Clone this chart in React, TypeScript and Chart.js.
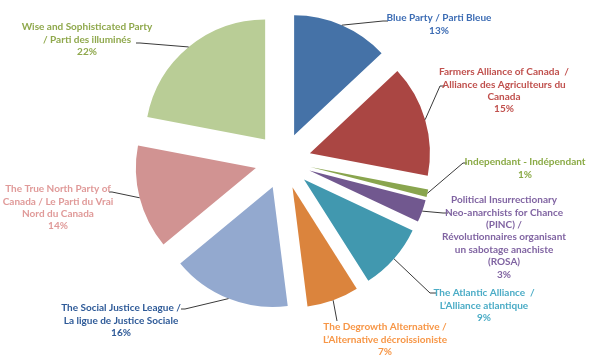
import React, { useEffect, useRef } from "react";
import { Chart, registerables } from "chart.js";

Chart.register(...registerables);

const categories: string[][] = [
  ["Blue Party / Parti Bleue"],
  ["Farmers Alliance of Canada  /", "Alliance des Agriculteurs du", "Canada"],
  ["Independant - Indépendant"],
  ["Political Insurrectionary", "Neo-anarchists for Chance", "(PINC) /", "Révolutionnaires organisant", "un sabotage anachiste", "(ROSA)"],
  ["The Atlantic Alliance  /", "L’Alliance atlantique"],
  ["The Degrowth Alternative /", "L’Alternative décroissioniste"],
  ["The Social Justice League /", "La ligue de Justice Sociale"],
  ["The True North Party of", "Canada / Le Parti du Vrai", "Nord du Canada"],
  ["Wise and Sophisticated Party", "/ Parti des illuminés"],
];

const shares: number[] = [13, 15, 1, 3, 9, 7, 16, 14, 22];

const sliceColors: string[] = [
  "#4572A7", "#AA4643", "#89A54E", "#71588F", "#4198AF",
  "#DB843D", "#93A9CF", "#D19392", "#B9CD96",
];

const labelColors: string[] = [
  "#3C6CB4", "#C0504D", "#8AAA45", "#8064A2", "#4BACC6",
  "#F79646", "#2E5A98", "#E09A99", "#8FA84C",
];

// label layout: text centre x, first line y, leader elbow x/y, stub length
const labelLayout = [
  { tx: 439, ty: 18, ex: 383, ey: 21, stub: 5 },
  { tx: 504, ty: 72, ex: 440, ey: 86, stub: 5 },
  { tx: 525, ty: 162, ex: 463, ey: 163, stub: 4 },
  { tx: 504, ty: 200, ex: 443, ey: 213, stub: 5 },
  { tx: 484, ty: 293, ex: 430, ey: 293, stub: 6 },
  { tx: 385, ty: 327, ex: 337, ey: 321, stub: 0 },
  { tx: 121, ty: 308, ex: 185, ey: 309, stub: -4 },
  { tx: 58, ty: 189, ex: 112, ey: 192, stub: -3 },
  { tx: 87, ty: 27, ex: 140, ey: 43, stub: -4 },
];

const EXPLODE = 28;
const LINE_H = 12.4;
const FONT = "bold 10px Lato, Roboto, sans-serif";

const explodePlugin = {
  id: "explodeDraw",
  beforeDatasetDraw(chart: any, args: any) {
    const ctx = chart.ctx;
    args.meta.data.forEach((arc: any) => {
      const mid = (arc.startAngle + arc.endAngle) / 2;
      ctx.save();
      ctx.translate(Math.cos(mid) * EXPLODE, Math.sin(mid) * EXPLODE);
      arc.draw(ctx);
      ctx.restore();
    });
    return false;
  },
  afterDraw(chart: any) {
    const ctx = chart.ctx;
    const meta = chart.getDatasetMeta(0);
    const total = shares.reduce((a, b) => a + b, 0);
    ctx.save();
    meta.data.forEach((arc: any, i: number) => {
      const mid = (arc.startAngle + arc.endAngle) / 2;
      const d = arc.outerRadius + EXPLODE;
      const sx = arc.x + Math.cos(mid) * d;
      const sy = arc.y + Math.sin(mid) * d;
      const L = labelLayout[i];
      ctx.strokeStyle = "#3a3a3a";
      ctx.lineWidth = 1;
      ctx.beginPath();
      ctx.moveTo(sx, sy);
      ctx.lineTo(L.ex, L.ey);
      if (L.stub !== 0) ctx.lineTo(L.ex + L.stub, L.ey);
      ctx.stroke();
      const lines = [...categories[i], Math.round((shares[i] / total) * 100) + "%"];
      ctx.fillStyle = labelColors[i];
      ctx.font = FONT;
      ctx.textAlign = "center";
      ctx.textBaseline = "middle";
      lines.forEach((t, k) => ctx.fillText(t, L.tx, L.ty + k * LINE_H));
    });
    ctx.restore();
  },
};

export default function App() {
  const ref = useRef<HTMLCanvasElement | null>(null);
  useEffect(() => {
    if (!ref.current) return;
    const chart = new Chart(ref.current, {
      type: "pie",
      data: {
        labels: categories.map((c) => c.join(" ")),
        datasets: [
          {
            data: shares,
            backgroundColor: sliceColors,
            borderWidth: 0,
            hoverOffset: 0,
            offset: 0,
          },
        ],
      },
      options: {
        responsive: false,
        animation: false,
        events: [],
        layout: { padding: { left: 163, right: 197, top: 41, bottom: 79 } },
        plugins: {
          legend: { display: false },
          tooltip: { enabled: false },
        },
      },
      plugins: [explodePlugin],
    });
    return () => chart.destroy();
  }, []);
  return (
    <div style={{ position: "fixed", left: 0, top: 0, width: 600, height: 360, background: "#fff" }}>
      <canvas ref={ref} width={600} height={360} />
    </div>
  );
}
